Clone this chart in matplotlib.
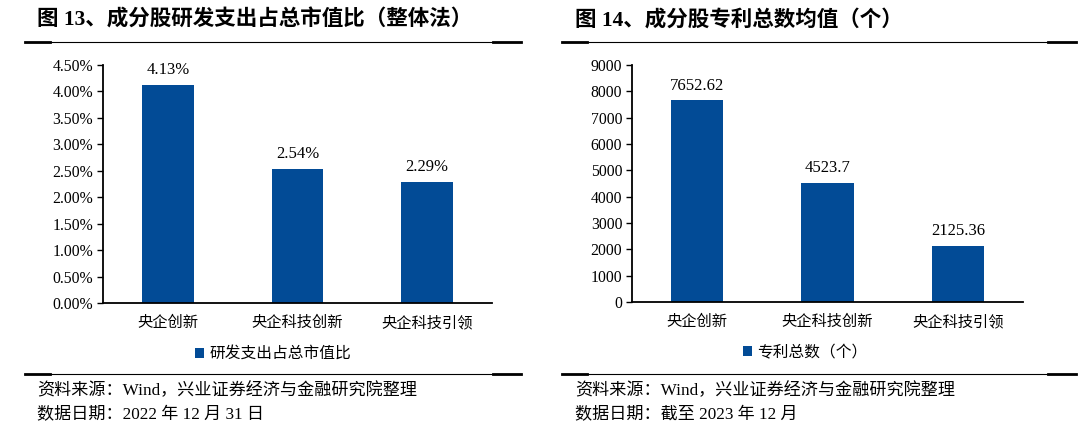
import matplotlib
matplotlib.use('Agg')
import matplotlib.pyplot as plt
from matplotlib.lines import Line2D

plt.rcParams['font.family'] = ['Liberation Serif', 'Noto Sans CJK SC', 'DejaVu Sans']

# 数据
categories = ['央企创新', '央企科技创新', '央企科技引领']
rd_ratio = [4.13, 2.54, 2.29]          # 研发支出占总市值比 (%)
rd_labels = ['4.13%', '2.54%', '2.29%']
patents = [7652.62, 4523.7, 2125.36]   # 专利总数均值 (个)
patent_labels = ['7652.62', '4523.7', '2125.36']

bar_color = '#024B96'

fig = plt.figure(figsize=(10.8, 4.47), dpi=100)
W, H = 1080.0, 447.0


def hline(x0, x1, y, lw):
    fig.add_artist(Line2D([x0 / W, x1 / W], [1 - y / H, 1 - y / H],
                          color='black', lw=lw, transform=fig.transFigure))


def rule(x0, x1, y):
    # 细线，两端加粗
    hline(x0, x1, y, 0.8)
    hline(x0, x0 + 25, y, 2.0)
    hline(x1 - 28, x1, y, 2.0)


def draw_panel(ax, values, labels, ymax, step, fmt, legend_label, leg_x):
    x = range(len(categories))
    ax.bar(x, values, width=0.4, color=bar_color, label=legend_label, zorder=2)
    for xi, v, t in zip(x, values, labels):
        ax.annotate(t, (xi, v), xytext=(0, 5), textcoords='offset points',
                    ha='center', va='bottom', fontsize=12)
    ax.set_xlim(-0.5, len(categories) - 0.5)
    ax.set_ylim(0, ymax)
    ticks = [i * step for i in range(int(round(ymax / step)) + 1)]
    ax.set_yticks(ticks)
    ax.set_yticklabels([fmt(t) for t in ticks], fontsize=11.3)
    ax.set_xticks(list(x))
    ax.set_xticklabels(categories, fontsize=11)
    ax.tick_params(axis='x', length=0, pad=9)
    ax.tick_params(axis='y', length=4, width=1, direction='out', pad=3)
    for s in ['top', 'right']:
        ax.spines[s].set_visible(False)
    for s in ['left', 'bottom']:
        ax.spines[s].set_linewidth(1.3)
    ax.legend(loc='center', bbox_to_anchor=(leg_x, -0.215), frameon=False,
              fontsize=11.3, handlelength=0.6, handleheight=0.6, handletextpad=0.3)


# 左图
ax1 = fig.add_axes([103 / W, 1 - 303 / H, 389 / W, 238 / H])
draw_panel(ax1, rd_ratio, rd_labels, 4.5, 0.5, lambda t: '%.2f%%' % t,
           '研发支出占总市值比', 0.437)

# 右图
ax2 = fig.add_axes([632 / W, 1 - 302 / H, 391 / W, 237 / H])
draw_panel(ax2, patents, patent_labels, 9000, 1000, lambda t: '%d' % t,
           '专利总数（个）', 0.442)

# 标题
fig.text(37 / W, 1 - 20 / H, '图 13、成分股研发支出占总市值比（整体法）',
         fontsize=15.5, fontweight='bold', va='center', ha='left')
fig.text(575 / W, 1 - 20 / H, '图 14、成分股专利总数均值（个）',
         fontsize=15.5, fontweight='bold', va='center', ha='left')
rule(25, 521, 42)
rule(562, 1076, 42)

# 脚注
rule(25, 521, 374)
rule(562, 1076, 374)
fig.text(37 / W, 1 - 391 / H, '资料来源：Wind，兴业证券经济与金融研究院整理',
         fontsize=12.3, va='center', ha='left')
fig.text(37 / W, 1 - 415 / H, '数据日期：2022 年 12 月 31 日',
         fontsize=12.3, va='center', ha='left')
fig.text(575 / W, 1 - 391 / H, '资料来源：Wind，兴业证券经济与金融研究院整理',
         fontsize=12.3, va='center', ha='left')
fig.text(575 / W, 1 - 415 / H, '数据日期：截至 2023 年 12 月',
         fontsize=12.3, va='center', ha='left')

fig.savefig('out.png', dpi=100)
